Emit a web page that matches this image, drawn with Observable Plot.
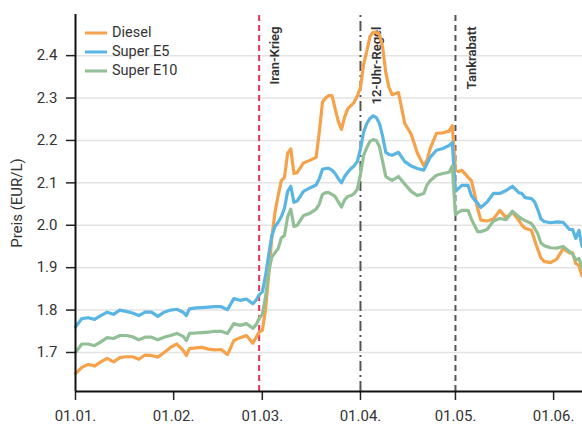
<!DOCTYPE html>
<html><head><meta charset="utf-8">
<script src="https://cdn.jsdelivr.net/npm/d3@7"></script>
<script src="https://cdn.jsdelivr.net/npm/@observablehq/plot@0.6"></script>
<style>
body{margin:0;background:#fff;font-family:Roboto,"Liberation Sans",sans-serif;}
#wrap{position:relative;width:582px;height:424px;}
#legend{position:absolute;left:85px;top:23px;font-size:14.5px;color:#333;line-height:19px;}
.item{display:flex;align-items:center;height:19px;}
.item svg{margin-right:5px;}
</style></head><body><div id="wrap"><div id="legend"></div></div>
<script>
const year = 2026;
const days = ["01-01","01-03","01-05","01-07","01-09","01-11","01-13","01-15","01-17","01-19","01-21","01-23","01-25","01-27","01-29","01-31",
"02-02","02-04","02-05","02-06","02-08","02-10","02-12","02-14","02-16","02-18","02-20","02-22","02-24","02-26","02-27","02-28",
"03-01","03-02","03-03","03-04","03-05","03-06","03-07","03-08","03-09","03-10","03-11","03-12","03-14","03-16","03-18","03-19","03-20","03-21","03-22","03-23","03-24","03-25","03-26","03-27","03-28","03-29","03-30","03-31",
"04-01","04-02","04-03","04-04","04-05","04-06","04-07","04-08","04-09","04-10","04-11","04-13","04-15","04-17","04-19","04-21","04-22","04-23","04-25","04-27","04-29","04-30",
"05-01","05-02","05-03","05-05","05-06","05-07","05-08","05-09","05-11","05-13","05-15","05-17","05-19","05-21","05-22","05-23","05-25","05-26","05-27","05-28","05-29","05-31",
"06-02","06-04","06-06","06-07","06-08","06-09","06-10"];
const diesel = [1.650,1.665,1.672,1.668,1.678,1.686,1.678,1.688,1.690,1.690,1.684,1.694,1.693,1.689,1.700,1.712,
1.720,1.705,1.693,1.709,1.711,1.712,1.708,1.706,1.707,1.695,1.728,1.735,1.740,1.722,1.735,1.748,
1.752,1.800,1.880,1.970,2.030,2.070,2.105,2.113,2.170,2.180,2.122,2.124,2.147,2.153,2.160,2.220,2.290,2.300,2.306,2.306,2.275,2.245,2.226,2.255,2.275,2.282,2.290,2.305,
2.325,2.380,2.410,2.445,2.455,2.455,2.450,2.420,2.360,2.325,2.308,2.313,2.240,2.215,2.170,2.140,2.153,2.180,2.217,2.218,2.222,2.235,
2.130,2.127,2.130,2.113,2.106,2.075,2.040,2.012,2.010,2.015,2.035,2.018,2.030,2.012,2.000,1.993,1.988,1.965,1.943,1.923,1.915,1.912,
1.920,1.945,1.935,1.935,1.910,1.905,1.880];
const superE5 = [1.760,1.780,1.782,1.778,1.787,1.795,1.790,1.800,1.797,1.793,1.787,1.795,1.795,1.785,1.795,1.800,
1.802,1.795,1.787,1.803,1.805,1.806,1.807,1.808,1.808,1.801,1.827,1.823,1.826,1.815,1.823,1.836,
1.843,1.880,1.930,1.975,1.997,2.007,2.020,2.040,2.080,2.092,2.054,2.057,2.080,2.088,2.095,2.110,2.132,2.134,2.134,2.130,2.122,2.110,2.100,2.115,2.125,2.134,2.140,2.150,
2.180,2.220,2.240,2.252,2.258,2.254,2.240,2.210,2.172,2.167,2.165,2.172,2.150,2.140,2.134,2.130,2.145,2.160,2.177,2.181,2.188,2.195,
2.080,2.087,2.094,2.094,2.070,2.060,2.052,2.042,2.055,2.075,2.075,2.082,2.092,2.077,2.075,2.065,2.063,2.055,2.037,2.015,2.009,2.006,
2.008,2.007,1.990,1.990,1.969,1.988,1.950];
const superE10 = [1.700,1.720,1.720,1.716,1.725,1.735,1.733,1.740,1.740,1.737,1.730,1.736,1.736,1.730,1.736,1.740,
1.745,1.738,1.728,1.745,1.746,1.747,1.748,1.750,1.750,1.745,1.768,1.764,1.768,1.757,1.765,1.780,
1.790,1.830,1.890,1.925,1.935,1.945,1.970,1.976,2.020,2.038,1.997,2.000,2.023,2.028,2.038,2.050,2.073,2.077,2.077,2.073,2.068,2.055,2.043,2.060,2.068,2.070,2.075,2.085,
2.120,2.165,2.183,2.198,2.202,2.200,2.185,2.150,2.115,2.110,2.106,2.115,2.097,2.080,2.070,2.075,2.095,2.105,2.118,2.122,2.125,2.140,
2.025,2.031,2.035,2.035,2.015,2.000,1.985,1.985,1.990,2.010,2.016,2.013,2.033,2.020,2.015,2.011,2.004,1.993,1.980,1.958,1.952,1.947,
1.946,1.950,1.938,1.932,1.918,1.922,1.900];
const seriesNames = ["Diesel","Super E5","Super E10"];
const seriesValues = [diesel, superE5, superE10];
const seriesColors = ["#f5a24a","#5ab5e3","#92bf95"];
const eventDates = ["02-28","04-01","05-01"];
const eventLabels = ["Iran-Krieg","12-Uhr-Regel","Tankrabatt"];
const tickDates = ["01-01","02-01","03-01","04-01","05-01","06-01"];
const yTicks = [1.7,1.8,1.9,2.0,2.1,2.2,2.3,2.4];

const parse = s => d3.utcParse("%Y-%m-%d")(`${year}-${s}`);
const rows = [];
seriesNames.forEach((name, k) => days.forEach((d, i) => rows.push({series: name, date: parse(d), value: seriesValues[k][i]})));
const events = eventDates.map((d, i) => ({date: parse(d), label: eventLabels[i]}));
const xDomain = [parse("01-01"), new Date(Date.UTC(year, 5, 10, 3))];
const yDomain = [1.608, 2.497];
const eventStyles = [
  {stroke: "#e8325a", strokeDasharray: "6,4"},
  {stroke: "#555", strokeDasharray: "10,4,2,4"},
  {stroke: "#555", strokeDasharray: "6,4"}
];

const chart = Plot.plot({
  width: 582, height: 424,
  marginLeft: 75, marginRight: 0, marginTop: 14, marginBottom: 33,
  style: {fontFamily: "Roboto, 'Liberation Sans', sans-serif", fontSize: "15px", color: "#333", background: "#fff"},
  x: {type: "utc", domain: xDomain},
  y: {domain: yDomain},
  color: {domain: seriesNames, range: seriesColors},
  marks: [
    Plot.gridY(yTicks, {stroke: "#e3e3e3", strokeOpacity: 1, strokeWidth: 1.5}),
    ...events.map((e, i) => Plot.ruleX([e], {x: "date", y1: yDomain[0], y2: yDomain[1], strokeWidth: 2, ...eventStyles[i]})),
    Plot.text(events, {x: "date", frameAnchor: "top", text: "label", rotate: -90, textAnchor: "end", dx: 11, dy: 12, fontSize: 13, fontWeight: 600, fill: "#333"}),
    Plot.line(rows, {x: "date", y: "value", z: "series", stroke: "series", strokeWidth: 3.2, strokeLinejoin: "round"}),
    Plot.axisX({ticks: tickDates.map(parse), tickFormat: d3.utcFormat("%d.%m."), tickSize: 9, tickPadding: 10, strokeWidth: 1.5, stroke: "#222", fontSize: 15, label: null}),
    Plot.axisY({ticks: yTicks, tickFormat: d3.format(".1f"), tickSize: 9, tickPadding: 9, strokeWidth: 1.5, stroke: "#222", fontSize: 15, label: "Preis (EUR/L)", labelAnchor: "center", labelArrow: "none", labelOffset: 64}),
    Plot.ruleX([xDomain[0]], {stroke: "#111", strokeWidth: 2}),
    Plot.ruleY([yDomain[0]], {stroke: "#111", strokeWidth: 2})
  ]
});
const wrap = document.getElementById("wrap");
wrap.insertBefore(chart, wrap.firstChild);

const legend = document.getElementById("legend");
seriesNames.forEach((name, k) => {
  const item = document.createElement("div");
  item.className = "item";
  item.innerHTML = `<svg width="22" height="6"><line x1="0" x2="22" y1="3" y2="3" stroke="${seriesColors[k]}" stroke-width="3"/></svg><span>${name}</span>`;
  legend.appendChild(item);
});
</script></body></html>
